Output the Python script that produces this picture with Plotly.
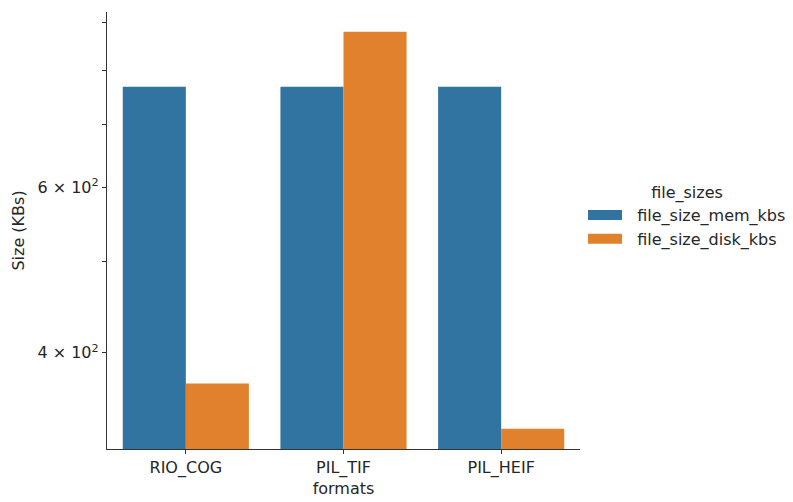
import plotly.graph_objects as go

# File sizes (KB) per image format
formats = ["RIO_COG", "PIL_TIF", "PIL_HEIF"]
file_size_mem_kbs = [768, 768, 768]
file_size_disk_kbs = [371, 879, 332]

series_names = ["file_size_mem_kbs", "file_size_disk_kbs"]
series_colors = ["#3274a1", "#e1812c"]

y_tick_vals = [400, 600]
y_tick_text = ["4 × 10<sup>2</sup>", "6 × 10<sup>2</sup>"]
y_minor_vals = [500, 700, 800, 900]

FONT = "DejaVu Sans"
TXT = "#262626"
PAD = "\u00a0\u00a0"  # gap between legend key and label

fig = go.Figure()
for name, vals, color in zip(series_names, [file_size_mem_kbs, file_size_disk_kbs], series_colors):
    fig.add_trace(go.Bar(
        x=formats, y=vals, name=name, marker=dict(color=color, line=dict(width=0)),
        showlegend=False, legendgroup=name,
    ))
    # wide rectangular legend key
    fig.add_trace(go.Scatter(
        x=[None], y=[None], mode="lines", name=PAD + name, legendgroup=name,
        line=dict(color=color, width=11),
    ))

fig.update_layout(
    width=793, height=502,
    margin=dict(l=107, r=213, t=12, b=53),
    paper_bgcolor="white", plot_bgcolor="white",
    font=dict(family=FONT, size=16, color=TXT),
    barmode="group", bargap=0.2, bargroupgap=0,
    legend=dict(
        title=dict(text="file_sizes", side="top center", font=dict(size=16, color=TXT)),
        xref="container", yref="container",
        x=0.7352, xanchor="left", y=0.568, yanchor="middle",
        itemwidth=34, tracegroupgap=0, font=dict(size=16, color=TXT),
        bgcolor="rgba(0,0,0,0)",
    ),
    xaxis=dict(
        title=dict(text="formats", standoff=5, font=dict(size=16, color=TXT)),
        tickfont=dict(size=16, color=TXT), automargin=False,
        range=[-0.5, 2.5], showline=True, linecolor="#333", linewidth=1.3,
        ticks="outside", ticklen=4, tickcolor="#333", showgrid=False, zeroline=False,
    ),
    yaxis=dict(
        type="log", title=dict(text="Size (KBs)", standoff=8, font=dict(size=16, color=TXT)),
        tickfont=dict(size=16, color=TXT), automargin=False,
        range=[2.4995, 2.9650],
        tickmode="array", tickvals=y_tick_vals, ticktext=y_tick_text,
        showline=True, linecolor="#333", linewidth=1.3,
        ticks="outside", ticklen=4, tickcolor="#333", showgrid=False, zeroline=False,
        minor=dict(tickmode="array", tickvals=y_minor_vals, ticks="outside",
                   ticklen=4, tickcolor="#333", showgrid=False),
    ),
)

fig.write_html("out.html")
